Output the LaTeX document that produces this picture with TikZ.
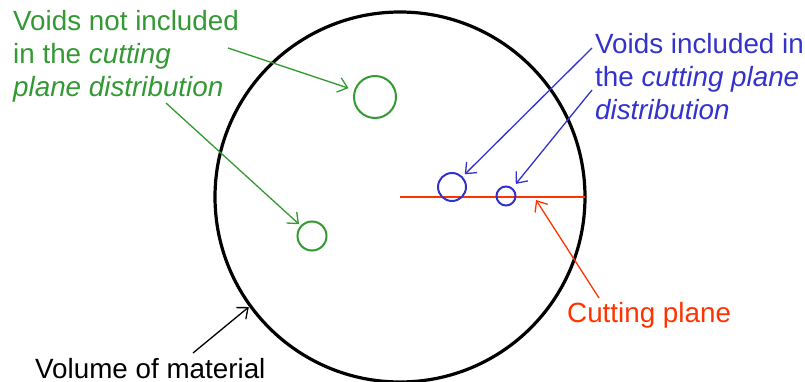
\documentclass[tikz,border=0pt]{standalone}
\usepackage{fontspec}
\setmainfont{Liberation Sans}
\usetikzlibrary{arrows.meta}
\definecolor{voidgreen}{RGB}{51,153,51}
\definecolor{voidblue}{RGB}{51,51,204}
\definecolor{planered}{RGB}{255,51,0}
\begin{document}
\begin{tikzpicture}
                [x=1pt,y=-1pt,
                caption/.style={inner sep=0pt,anchor=base west,align=left,font=\fontsize{27.8}{33}\selectfont},
                void/.style={circle,draw,line width=2pt,inner sep=0pt,outer sep=0pt},
                pointer/.style={line width=1.3pt,-{Straight Barb[length=9pt,width=15pt]}}]
                \useasboundingbox (0,0) rectangle (805,382);
                \node[circle,draw,line width=3.2pt,inner sep=0pt,outer sep=0pt,minimum size=370pt] (vol) at (400,197) {};
                \draw[planered,line width=2pt] (vol.center) -- (vol.east);
                \node[void,voidgreen,minimum size=42pt] (gtop) at (375,97) {};
                \node[void,voidgreen,minimum size=29pt] (gbot) at (312,236) {};
                \node[void,voidblue,minimum size=28pt] (bbig) at (452,187) {};
                \node[void,voidblue,minimum size=19pt] (bsmall) at (506,196) {};
                \node[caption,voidgreen] (gtext) at (13,97) {Voids not included\\in the \textit{cutting}\\\textit{plane distribution}};
                \node[caption,voidblue] (btext) at (595,120) {Voids included in\\the \textit{cutting plane}\\\textit{distribution}};
                \node[caption,planered] (ptext) at (567,322) {Cutting plane};
                \node[caption] (vtext) at (35,378) {Volume of material};
                \coordinate (gfrom1) at (228,48);
                \coordinate (gfrom2) at (166,103);
                \coordinate (bfrom1) at (592,48);
                \coordinate (bfrom2) at (592,90);
                \coordinate (pfrom) at (599,298);
                \coordinate (pto) at (536,200);
                \coordinate (vfrom) at (193,353);
                \draw[pointer,voidgreen,shorten >=7pt] (gfrom1) -- (gtop);
                \draw[pointer,voidgreen,shorten >=3pt] (gfrom2) -- (gbot);
                \draw[pointer,voidblue,shorten >=4pt] (bfrom1) -- (bbig);
                \draw[pointer,voidblue,shorten >=6pt] (bfrom2) -- (bsmall);
                \draw[pointer,planered] (pfrom) -- (pto);
                \draw[pointer,shorten >=2pt] (vfrom) -- (vol.216);
            \end{tikzpicture}
\end{document}
